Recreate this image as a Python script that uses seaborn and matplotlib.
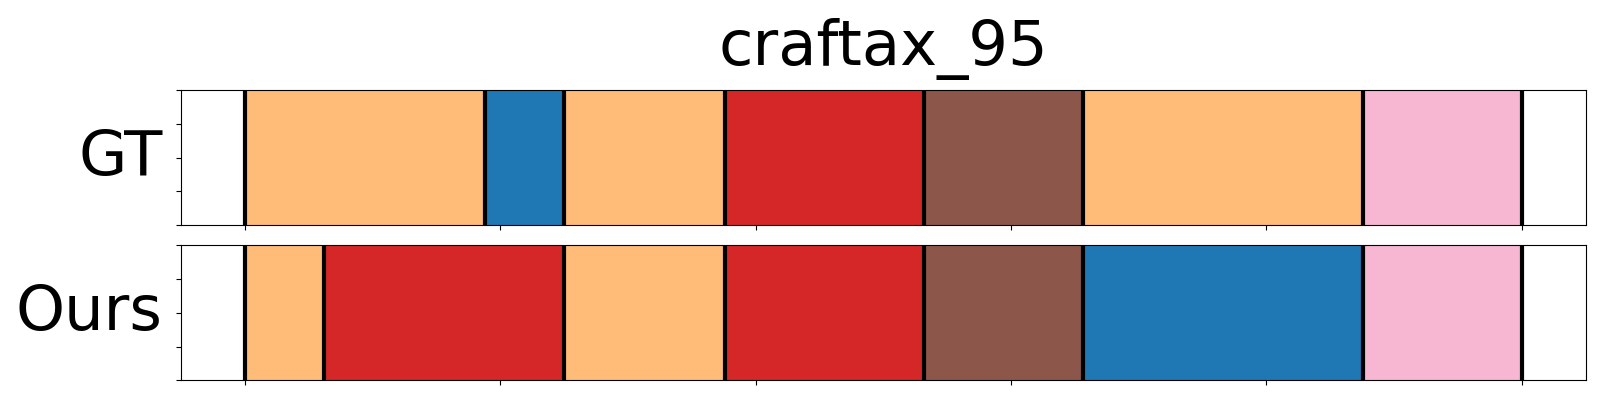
import numpy as np
import matplotlib
matplotlib.use("Agg")
import matplotlib.pyplot as plt
import seaborn as sns

# === data: segment boundaries (frames) and action ids per segment ===
title = "craftax_95"
row_names = ["GT", "Ours"]

gt_bounds = [0, 94, 125, 188, 266, 328, 438, 500]
gt_labels = [3, 0, 3, 6, 10, 3, 13]

ours_bounds = [0, 31, 125, 188, 266, 328, 438, 500]
ours_labels = [3, 6, 3, 6, 10, 0, 13]

x_ticks = [0, 100, 200, 300, 400, 500]

palette = sns.color_palette("tab20", 20)

fig = plt.figure(figsize=(16, 4), dpi=100)
ax_gt = fig.add_axes([0.1133, 0.437, 0.8777, 0.3375])
ax_ours = fig.add_axes([0.1133, 0.049, 0.8777, 0.3375])

rows = [(ax_gt, gt_bounds, gt_labels), (ax_ours, ours_bounds, ours_labels)]

for (ax, bounds, labels), name in zip(rows, row_names):
    b = np.array(bounds)
    ax.barh(y=0.5, width=np.diff(b), left=b[:-1], height=1.0,
            color=[palette[l] for l in labels], edgecolor="none")
    # segment boundaries
    for x in b:
        ax.axvline(x, color="black", linewidth=3)
    ax.use_sticky_edges = False
    ax.margins(x=0.05)
    ax.set_ylim(0, 1)
    ax.set_yticks([0, 0.25, 0.5, 0.75, 1.0])
    ax.set_yticklabels([])
    ax.set_xticks(x_ticks)
    ax.set_xticklabels([])
    ax.set_ylabel(name, rotation=0, fontsize=45, ha="right", va="center", labelpad=6.5)

ax_gt.set_title(title, fontsize=45, pad=18)

fig.savefig("out.png", dpi=100)
